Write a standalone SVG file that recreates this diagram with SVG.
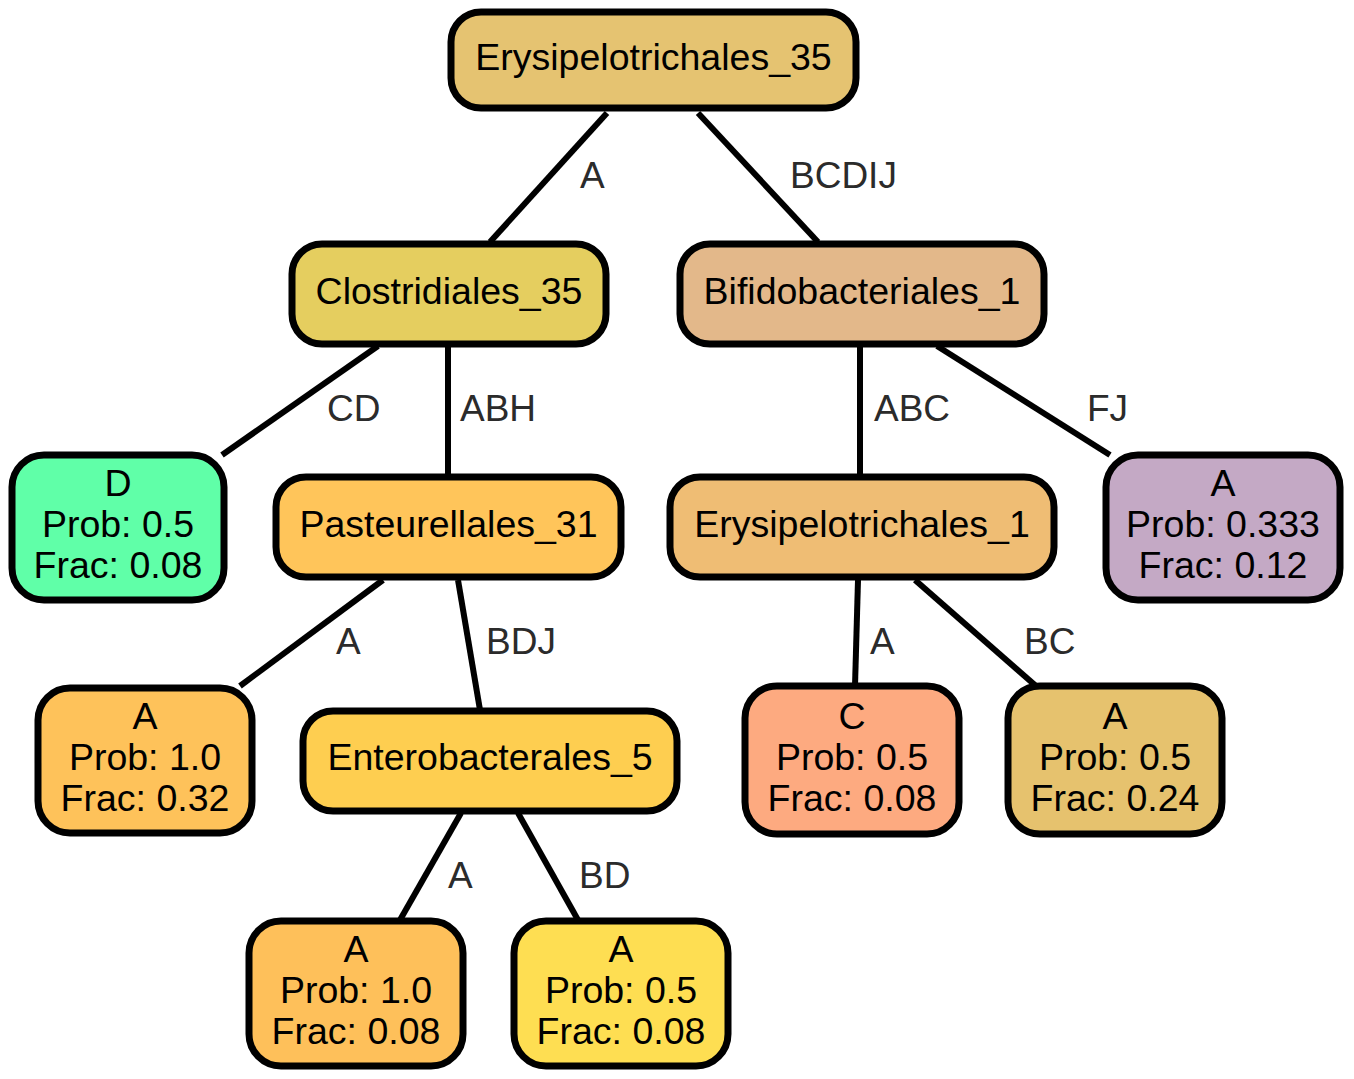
<svg xmlns="http://www.w3.org/2000/svg" width="1354" height="1079" viewBox="0 0 1354 1079">
<style>
.n rect{stroke:#000;stroke-width:7}
.n text{font-family:"Liberation Sans",Arial,sans-serif;font-size:37.5px;fill:#000;text-anchor:middle}
.e line{stroke:#000;stroke-width:6}
.e text{font-family:"Liberation Sans",Arial,sans-serif;font-size:37px;fill:#2b2b2b}
</style>
<rect width="1354" height="1079" fill="#fff"/>
<g class="e" id="edges">
<line x1="607" y1="113" x2="490" y2="242"/><text x="580" y="188">A</text>
<line x1="698" y1="113" x2="818" y2="242"/><text x="790" y="188">BCDIJ</text>
<line x1="378" y1="346" x2="222" y2="455"/><text x="327" y="421">CD</text>
<line x1="448" y1="346" x2="448" y2="477"/><text x="460" y="421">ABH</text>
<line x1="860" y1="346" x2="860" y2="477"/><text x="874" y="421">ABC</text>
<line x1="937" y1="346" x2="1110" y2="455"/><text x="1087" y="421">FJ</text>
<line x1="383" y1="580" x2="240" y2="686"/><text x="336" y="654">A</text>
<line x1="458" y1="580" x2="480" y2="710"/><text x="486" y="654">BDJ</text>
<line x1="858" y1="580" x2="855" y2="686"/><text x="870" y="654">A</text>
<line x1="915" y1="580" x2="1036" y2="686"/><text x="1024" y="654">BC</text>
<line x1="461" y1="813" x2="400" y2="920"/><text x="448" y="888">A</text>
<line x1="518" y1="813" x2="578" y2="920"/><text x="579" y="888">BD</text>
</g>
<g class="n" id="n_root"><rect x="451" y="12" width="405" height="96" rx="30" fill="#E5C371"/><text x="653.5" y="70">Erysipelotrichales_35</text></g>
<g class="n" id="n_clos"><rect x="292" y="244" width="314" height="100" rx="30" fill="#E5CE5F"/><text x="449" y="304">Clostridiales_35</text></g>
<g class="n" id="n_bifi"><rect x="680" y="244" width="364" height="100" rx="30" fill="#E3B88A"/><text x="862" y="304">Bifidobacteriales_1</text></g>
<g class="n" id="n_d"><rect x="12" y="455" width="212" height="145" rx="32" fill="#60FFA8"/><text x="118" y="496">D</text><text x="118" y="537">Prob: 0.5</text><text x="118" y="578">Frac: 0.08</text></g>
<g class="n" id="n_past"><rect x="276" y="477" width="345" height="100" rx="30" fill="#FFC55A"/><text x="448.5" y="537">Pasteurellales_31</text></g>
<g class="n" id="n_ery1"><rect x="670" y="477" width="384" height="100" rx="30" fill="#EFBD74"/><text x="862" y="537">Erysipelotrichales_1</text></g>
<g class="n" id="n_a333"><rect x="1106" y="455" width="234" height="145" rx="32" fill="#C4A9C5"/><text x="1223" y="496">A</text><text x="1223" y="537">Prob: 0.333</text><text x="1223" y="578">Frac: 0.12</text></g>
<g class="n" id="n_a32"><rect x="38" y="688" width="214" height="145" rx="32" fill="#FEC25A"/><text x="145" y="729">A</text><text x="145" y="770">Prob: 1.0</text><text x="145" y="811">Frac: 0.32</text></g>
<g class="n" id="n_ent"><rect x="303" y="711" width="374" height="100" rx="30" fill="#FECE50"/><text x="490" y="770">Enterobacterales_5</text></g>
<g class="n" id="n_c"><rect x="745" y="686" width="214" height="148" rx="32" fill="#FDAA80"/><text x="852" y="729">C</text><text x="852" y="770">Prob: 0.5</text><text x="852" y="811">Frac: 0.08</text></g>
<g class="n" id="n_a24"><rect x="1008" y="686" width="214" height="148" rx="32" fill="#E6C26E"/><text x="1115" y="729">A</text><text x="1115" y="770">Prob: 0.5</text><text x="1115" y="811">Frac: 0.24</text></g>
<g class="n" id="n_a08a"><rect x="249" y="921" width="214" height="145" rx="32" fill="#FEC05A"/><text x="356" y="962">A</text><text x="356" y="1003">Prob: 1.0</text><text x="356" y="1044">Frac: 0.08</text></g>
<g class="n" id="n_a08b"><rect x="514" y="921" width="214" height="145" rx="32" fill="#FEDE52"/><text x="621" y="962">A</text><text x="621" y="1003">Prob: 0.5</text><text x="621" y="1044">Frac: 0.08</text></g>
</svg>
